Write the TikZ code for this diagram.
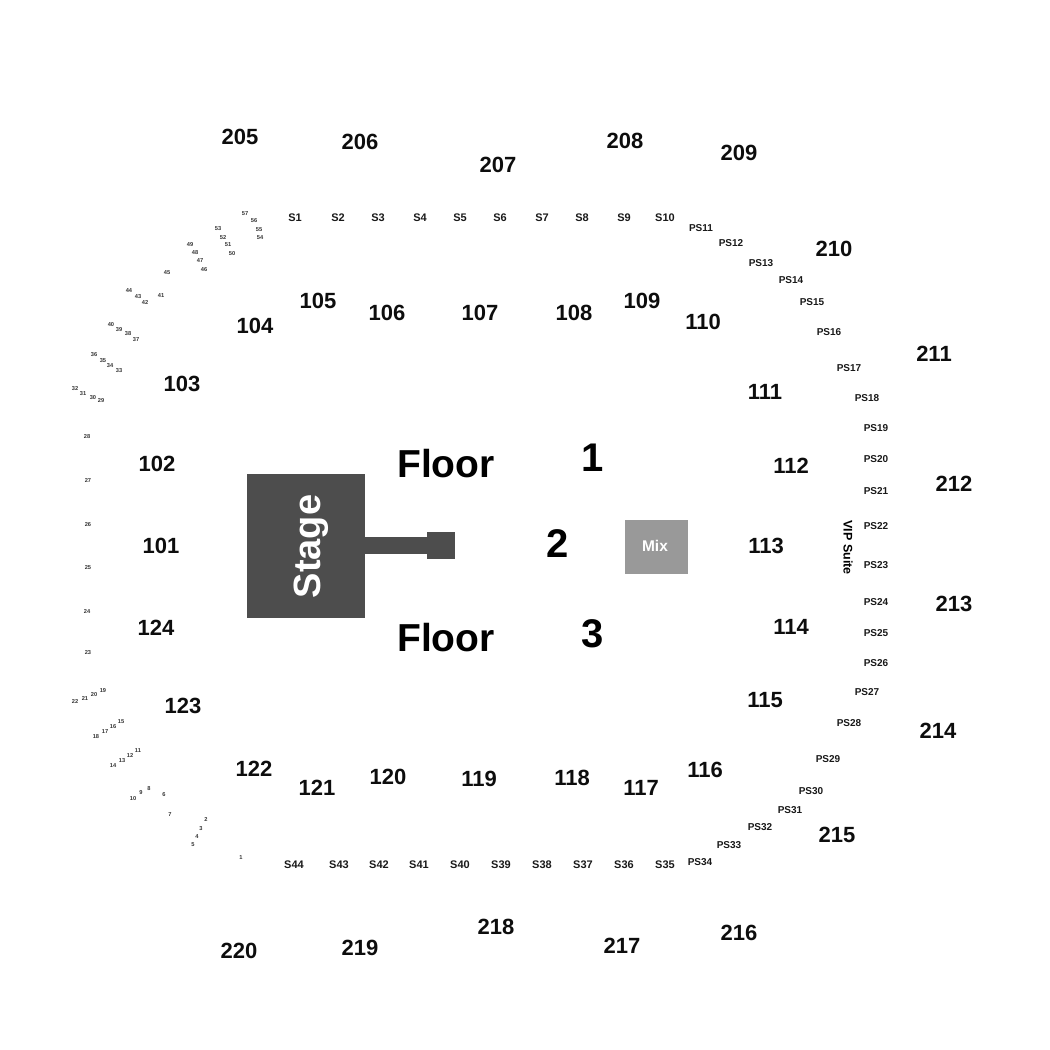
\documentclass[tikz,border=0pt]{standalone}
\usepackage{fontspec}
\setmainfont{Liberation Sans}
\tikzset{
  big/.style={font=\fontsize{22}{22}\selectfont\bfseries,inner sep=0pt,text=black!95,yshift=-0.7pt},
  huge/.style={font=\fontsize{39}{39}\selectfont\bfseries,inner sep=0pt},
  mid/.style={font=\fontsize{11}{11}\selectfont\bfseries,inner sep=0pt,text=black!90,yshift=-0.8pt},
  pslab/.style={font=\fontsize{10}{10}\selectfont\bfseries,inner sep=0pt,text=black!90,yshift=-0.8pt},
  tiny/.style={font=\fontsize{5.7}{6}\selectfont\bfseries,inner sep=0pt,text=black!80,yshift=-0.5pt},
}
\definecolor{stagegray}{HTML}{4D4D4D}
\definecolor{mixgray}{HTML}{999999}
\begin{document}
\begin{tikzpicture}[x=1pt,y=-1pt]
\useasboundingbox (0,0) rectangle (1050,1050);
% stage
\fill[stagegray] (247,474) rectangle (365,618);
\fill[stagegray] (365,537) rectangle (427,554);
\fill[stagegray] (427,532) rectangle (455,559);
\node[font=\fontsize{38}{38}\selectfont\bfseries,text=white,rotate=90,inner sep=0pt] (stage) at (311.5,546.5) {Stage};
\fill[mixgray] (625,520) rectangle (688,574);
\node[font=\fontsize{15.5}{16}\selectfont\bfseries,text=white,inner sep=0pt] (mix) at (655,546) {Mix};
\node[huge] (floorA) at (446,464) {Floor};
\node[huge] (floorB) at (446,638) {Floor};
\node[huge,font=\fontsize{40}{40}\selectfont\bfseries] (fl1) at (592.5,458) {1};
\node[huge,font=\fontsize{40}{40}\selectfont\bfseries] (fl2) at (558,544) {2};
\node[huge,font=\fontsize{40}{40}\selectfont\bfseries] (fl3) at (593,634) {3};
\node[font=\fontsize{12.5}{13}\selectfont\bfseries,rotate=-90,inner sep=0pt] (vip) at (848,547.5) {VIP Suite};
% section numbers
\foreach \t/\x/\y in {
 205/240/136,206/360/141,207/498/164,208/625/140,209/739/152,210/834/248,211/934/353,
 212/954/483,213/954/603,214/938/730,215/837/834,216/739/932,217/622/945,218/496/926,
 219/360/947,220/239/950,
 101/161/545,102/157/463,103/182/383,104/255/325,105/318/300,106/387/312,107/480/312,
 108/574/312,109/642/300,110/703/321,111/765/391,112/791/465,113/766/545,114/791/626,
 115/765/699,116/705/769,117/641/787,118/572/777,119/479/778,120/388/776,121/317/787,
 122/254/768,123/183/705,124/156/627}
  \node[big] (sec\t) at (\x,\y) {\t};
% S boxes
\foreach \t/\x/\y in {
 S1/295/217,S2/338/217,S3/378/217,S4/420/217,S5/460/217,S6/500/217,S7/542/217,S8/582/217,
 S9/624/217,S10/665/217,
 S44/294/864,S43/339/864,S42/379/864,S41/419/864,S40/460/864,S39/501/864,S38/542/864,
 S37/583/864,S36/624/864,S35/665/864}
  \node[mid] (box\t) at (\x,\y) {\t};
% PS boxes
\foreach \t/\x/\y in {
 PS11/701/227,PS12/731/242,PS13/761/262,PS14/791/279,PS15/812/301,PS16/829/331,PS17/849/367,
 PS18/867/397,PS19/876/427,PS20/876/458,PS21/876/490,PS22/876/525,PS23/876/564,PS24/876/601,
 PS25/876/632,PS26/876/662,PS27/867/691,PS28/849/722,PS29/828/758,PS30/811/790,PS31/790/809,
 PS32/760/826,PS33/729/844,PS34/700/861}
  \node[pslab] (box\t) at (\x,\y) {\t};
% numbered small boxes
\foreach \t/\x/\y in {
 57/245/213,56/254/220,55/259/229,54/260/237,53/218/228,52/223/237,51/228/244,50/232/253,
 49/190/244,48/195/252,47/200/260,46/204/269,45/167/272,44/129/290,43/138/296,42/145/302,
 41/161/295,40/111/324,39/119/329,38/128/333,37/136/339,36/94/354,35/103/360,34/110/365,
 33/119/370,32/75/388,31/83/393,30/93/397,29/101/400,28/87/436,27/88/480,26/88/524,
 25/88/567,24/87/611,23/88/652,19/103/690,20/94/694,21/85/698,22/75/701,15/121/721,
 16/113/726,17/105/731,18/96/736,11/138/750,12/130/755,13/122/760,14/113/765,8/149/788,
 9/141/792,10/133/798,6/164/794,7/170/814,2/206/819,3/201/828,4/197/836,5/193/844,1/241/857}
  \node[tiny] (n\t) at (\x,\y) {\t};
\end{tikzpicture}
\end{document}
